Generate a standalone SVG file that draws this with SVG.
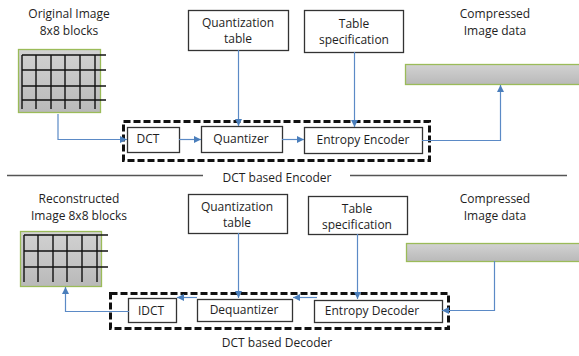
<svg xmlns="http://www.w3.org/2000/svg" width="579" height="356" viewBox="0 0 579 356">
<style>
text{font-family:"Open Sans","Liberation Sans",sans-serif;font-size:12px;fill:#1e1e1e;text-anchor:middle}
.box{fill:#fff;stroke:#333;stroke-width:1.3}
.dash{fill:none;stroke:#111;stroke-width:3;stroke-dasharray:7 3}
.con{fill:none;stroke:#5b8ac6;stroke-width:1.2}
.img{fill:url(#g);stroke:#9bbb59;stroke-width:1.3}
.grid{stroke:#111;stroke-width:1.4;fill:none}
.sep{stroke:#555;stroke-width:1.3}
</style>
<defs>
<linearGradient id="g" x1="0" y1="0" x2="0" y2="1"><stop offset="0" stop-color="#d2d2d2"/><stop offset="1" stop-color="#b9b9b9"/></linearGradient>
<marker id="a" viewBox="0 0 8 8" refX="8" refY="4" markerWidth="7" markerHeight="7" markerUnits="userSpaceOnUse" orient="auto"><path d="M0,0L8,4L0,8z" fill="#4a7ebb"/></marker>
</defs>

<g id="orig-image">
<text x="69" y="18">Original Image</text>
<text x="69" y="35">8x8 blocks</text>
<rect class="img" x="18.5" y="49.5" width="82" height="63"/>
<path class="grid" d="M22,55V109M36,55V109M51,55V109M65,55V109M80,55V109M95,55V109M22,55H106M22,70H106M22,86H106M22,100H106"/>
</g>
<g id="quant-table-enc"><rect class="box" x="188.5" y="10.5" width="100" height="40"/><text x="238" y="27">Quantization</text><text x="238" y="43">table</text></g>
<g id="table-spec-enc"><rect class="box" x="304.5" y="10.5" width="99" height="42"/><text x="354" y="28">Table</text><text x="354" y="44">specification</text></g>
<g id="compressed-enc">
<text x="495" y="18">Compressed</text><text x="495" y="35">Image data</text>
<rect class="img" x="405.5" y="64.5" width="180" height="20"/>
</g>
<g id="encoder">
<rect class="dash" x="123.5" y="121.5" width="306" height="39"/>
<text x="277" y="182">DCT based Encoder</text>
</g>
<g id="dct"><rect class="box" x="127.5" y="127.5" width="52" height="25"/><text x="148" y="143">DCT</text></g>
<g id="quantizer"><rect class="box" x="201.5" y="126.5" width="81" height="26"/><text x="241" y="143">Quantizer</text></g>
<g id="entropy-encoder"><rect class="box" x="304.5" y="127.5" width="118" height="26"/><text x="363" y="144">Entropy Encoder</text></g>

<g id="separator"><path class="sep" d="M7,175.5H203M350,175.5H567"/></g>

<g id="recon-image">
<text x="79" y="203">Reconstructed</text>
<text x="79" y="220">Image 8x8 blocks</text>
<rect class="img" x="20.5" y="231.5" width="81" height="55"/>
<path class="grid" d="M24,235V282M38,235V282M53,235V282M67,235V282M82,235V282M97,235V282M24,235H108M24,251H108M24,267H108"/>
</g>
<g id="quant-table-dec"><rect class="box" x="188.5" y="194.5" width="99" height="39"/><text x="237" y="211">Quantization</text><text x="237" y="227">table</text></g>
<g id="table-spec-dec"><rect class="box" x="308.5" y="196.5" width="99" height="38"/><text x="357" y="213">Table</text><text x="357" y="229">specification</text></g>
<g id="compressed-dec">
<text x="495" y="203">Compressed</text><text x="495" y="220">Image data</text>
<rect class="img" x="406.5" y="243.5" width="180" height="18"/>
</g>
<g id="decoder">
<rect class="dash" x="110.5" y="293.5" width="338" height="35"/>
<text x="277" y="347">DCT based Decoder</text>
</g>
<g id="idct"><rect class="box" x="128.5" y="298.5" width="48" height="24"/><text x="151" y="315">IDCT</text></g>
<g id="dequantizer"><rect class="box" x="197.5" y="299.5" width="95" height="22"/><text x="244" y="314">Dequantizer</text></g>
<g id="entropy-decoder"><rect class="box" x="314.5" y="300.5" width="128" height="22"/><text x="372" y="315">Entropy Decoder</text></g>

<g id="connectors">
<path class="con" marker-end="url(#a)" d="M58,114V139.5H127"/>
<path class="con" marker-end="url(#a)" d="M179,139.5H201"/>
<path class="con" marker-end="url(#a)" d="M282,139.5H304"/>
<path class="con" marker-end="url(#a)" d="M238.5,50V126"/>
<path class="con" marker-end="url(#a)" d="M354.5,52V127"/>
<path class="con" marker-end="url(#a)" d="M422,140.5H500.5V85"/>
<path class="con" marker-end="url(#a)" d="M238.5,233V298"/>
<path class="con" marker-end="url(#a)" d="M357.5,234V299"/>
<path class="con" marker-end="url(#a)" d="M494.5,261V310.5H442"/>
<path class="con" marker-end="url(#a)" d="M317,297.5H293"/>
<path class="con" marker-end="url(#a)" d="M197,297.5H177"/>
<path class="con" marker-end="url(#a)" d="M129,311.5H65.5V287"/>
</g>
</svg>
